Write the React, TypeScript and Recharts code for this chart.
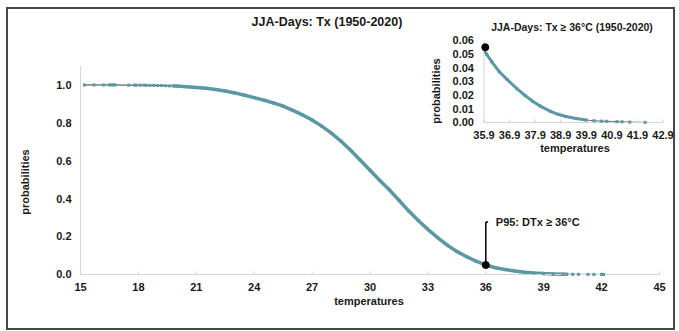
import { ComposedChart, Line, XAxis, YAxis, ReferenceDot, ReferenceLine } from "recharts";

// main chart: survival curve of summer Tx
const mainTemps = [
  15.2, 15.7, 16.2, 16.5, 16.6, 16.7, 16.8, 17.5, 17.8, 17.9, 18.1, 18.3, 18.4, 18.6, 18.8,
  19.0, 19.2, 19.4, 19.6, 19.8, 20.0, 20.5, 21.0, 21.5, 22.0, 22.5, 23.0, 23.5, 24.0, 24.5,
  25.0, 25.5, 26.0, 26.5, 27.0, 27.5, 28.0, 28.5, 29.0, 29.5, 30.0, 30.5, 31.0, 31.5, 32.0,
  32.5, 33.0, 33.5, 34.0, 34.5, 35.0, 35.5, 36.0, 36.5, 37.0, 37.5, 38.0, 38.5, 39.0, 39.5,
  40.0, 40.2, 40.5, 40.8, 41.3, 41.6, 42.0, 42.1,
];
const mainProbs = [
  1.0, 1.0, 1.0, 1.0, 1.0, 1.0, 1.0, 0.999, 0.999, 0.999, 0.999, 0.999, 0.998, 0.998, 0.998,
  0.997, 0.997, 0.996, 0.995, 0.995, 0.994, 0.991, 0.987, 0.982, 0.976, 0.968, 0.958, 0.946, 0.933, 0.92,
  0.905, 0.888, 0.866, 0.842, 0.815, 0.783, 0.746, 0.703, 0.655, 0.603, 0.55, 0.497, 0.447, 0.392, 0.336,
  0.285, 0.238, 0.195, 0.155, 0.122, 0.094, 0.07, 0.05, 0.036, 0.026, 0.018, 0.012, 0.0078, 0.0048, 0.003,
  0.0018, 0.0014, 0.001, 0.0008, 0.0005, 0.0004, 0.0002, 0.0001,
];
const mainXTicks = [15, 18, 21, 24, 27, 30, 33, 36, 39, 42, 45];
const mainYTicks = [0, 0.2, 0.4, 0.6, 0.8, 1.0];

// inset: tail above 36°C
const insetTemps = [
  35.92, 36.0, 36.2, 36.5, 36.8, 37.2, 37.5, 37.8, 38.1, 38.5, 38.8, 39.1, 39.5, 39.9,
  40.2, 40.5, 40.7, 41.1, 41.3, 41.6, 42.2,
];
const insetProbs = [
  0.052, 0.05, 0.0445, 0.037, 0.0315, 0.0245, 0.0198, 0.0155, 0.012, 0.0082, 0.006, 0.0044, 0.0029, 0.0018,
  0.0013, 0.001, 0.0009, 0.0006, 0.0005, 0.0003, 0.0001,
];
const insetXTicks = [35.9, 36.9, 37.9, 38.9, 39.9, 40.9, 41.9, 42.9];
const insetYTicks = [0, 0.01, 0.02, 0.03, 0.04, 0.05, 0.06];

const TEAL = "#5a98a2";
const AXIS = "#d4d4d4";
const FONT = '"Liberation Sans", Arial, sans-serif';
const INK = "#1a1a1a";

const mainData = mainTemps.map((t, i) => ({ t, p: mainProbs[i] }));
const mainDense = mainData.filter((d) => d.t >= 19.8 && d.t <= 40.2);
const insetData = insetTemps.map((t, i) => ({ t, p: insetProbs[i] }));
const insetDense = insetData.filter((d) => d.t <= 39.9);

const tickStyle = { fontSize: 11, fontWeight: 700, fill: INK, fontFamily: FONT };

const square = (props: any) => (
  <rect key={`d-${props.index}`} x={props.cx - 1.5} y={props.cy - 1.5} width={3} height={3} fill={TEAL} />
);

const txt = (x: number, y: number, s: string, size: number, rotate = false) => (
  <text
    x={x}
    y={y}
    textAnchor="middle"
    dominantBaseline="central"
    fontSize={size}
    fontWeight={700}
    fill={INK}
    fontFamily={FONT}
    transform={rotate ? `rotate(-90 ${x} ${y})` : undefined}
  >
    {s}
  </text>
);

export default function App() {
  return (
    <div>
      <div
        style={{
          position: "absolute", left: 6, top: 7, width: 669, height: 323,
          border: "2px solid #474747", boxSizing: "border-box",
        }}
      />
      <div style={{ position: "absolute", left: 0, top: 0 }}>
        <ComposedChart width={679} height={331} margin={{ top: 66, right: 19.5, left: 40.5, bottom: 26.5 }}>
          <XAxis
            type="number" dataKey="t" domain={[15, 45]} ticks={mainXTicks} height={30}
            stroke={AXIS} tickSize={-3} tickMargin={12} tick={tickStyle} allowDataOverflow
          />
          <YAxis
            type="number" dataKey="p" domain={[0, 1.1]} ticks={mainYTicks} width={40}
            stroke={AXIS} tickLine={false} tickSize={0} tickMargin={9} tick={tickStyle}
            tickFormatter={(v: number) => v.toFixed(1)}
          />
          <Line data={mainData} dataKey="p" stroke="#3c3c3c" strokeWidth={1} dot={square} isAnimationActive={false} />
          <Line data={mainDense} dataKey="p" stroke={TEAL} strokeWidth={3.5} dot={false} isAnimationActive={false} />
          <ReferenceLine segment={[{ x: 36, y: 0.05 }, { x: 36, y: 0.277 }]} stroke="#000" strokeWidth={1.5} />
          <ReferenceLine segment={[{ x: 36, y: 0.277 }, { x: 36.12, y: 0.277 }]} stroke="#000" strokeWidth={1.5} />
          <ReferenceDot x={36} y={0.05} r={3.5} fill="#000" stroke="#000" />
          <ReferenceDot
            x={36} y={0.277} r={0} fill="none" stroke="none"
            label={{ value: "P95: DTx ≥ 36°C", position: "right", offset: 10, fontSize: 11, fontWeight: 700, fill: INK, fontFamily: FONT }}
          />
        </ComposedChart>
      </div>
      <div style={{ position: "absolute", left: 400, top: 0 }}>
        <ComposedChart width={279} height={160} margin={{ top: 40.4, right: 16, left: 44, bottom: 12.5 }}>
          <XAxis
            type="number" dataKey="t" domain={[35.9, 42.9]} ticks={insetXTicks} height={25}
            stroke={AXIS} tickSize={-3} tickMargin={11.7} tick={tickStyle} interval={0}
            tickFormatter={(v: number) => v.toFixed(1)} allowDataOverflow
          />
          <YAxis
            type="number" dataKey="p" domain={[0, 0.06]} ticks={insetYTicks} width={40}
            stroke={AXIS} tickLine={false} tickSize={0} tickMargin={10} tick={tickStyle} interval={0}
            tickFormatter={(v: number) => v.toFixed(2)}
          />
          <Line data={insetData} dataKey="p" stroke="#6a6a6a" strokeWidth={1} dot={square} isAnimationActive={false} />
          <Line data={insetDense} dataKey="p" stroke={TEAL} strokeWidth={3} dot={false} isAnimationActive={false} />
          <ReferenceDot x={35.95} y={0.055} r={3.5} fill="#000" stroke="#000" />
        </ComposedChart>
      </div>
      <svg width={679} height={331} style={{ position: "absolute", left: 0, top: 0, pointerEvents: "none" }}>
        {txt(327, 22, "JJA-Days: Tx (1950-2020)", 12.5)}
        {txt(369, 301, "temperatures", 11)}
        {txt(25, 182, "probabilities", 11, true)}
        {txt(572, 27, "JJA-Days: Tx ≥ 36°C (1950-2020)", 10.5)}
        {txt(575, 148, "temperatures", 11)}
        {txt(436, 91, "probabilities", 11, true)}
      </svg>
    </div>
  );
}
